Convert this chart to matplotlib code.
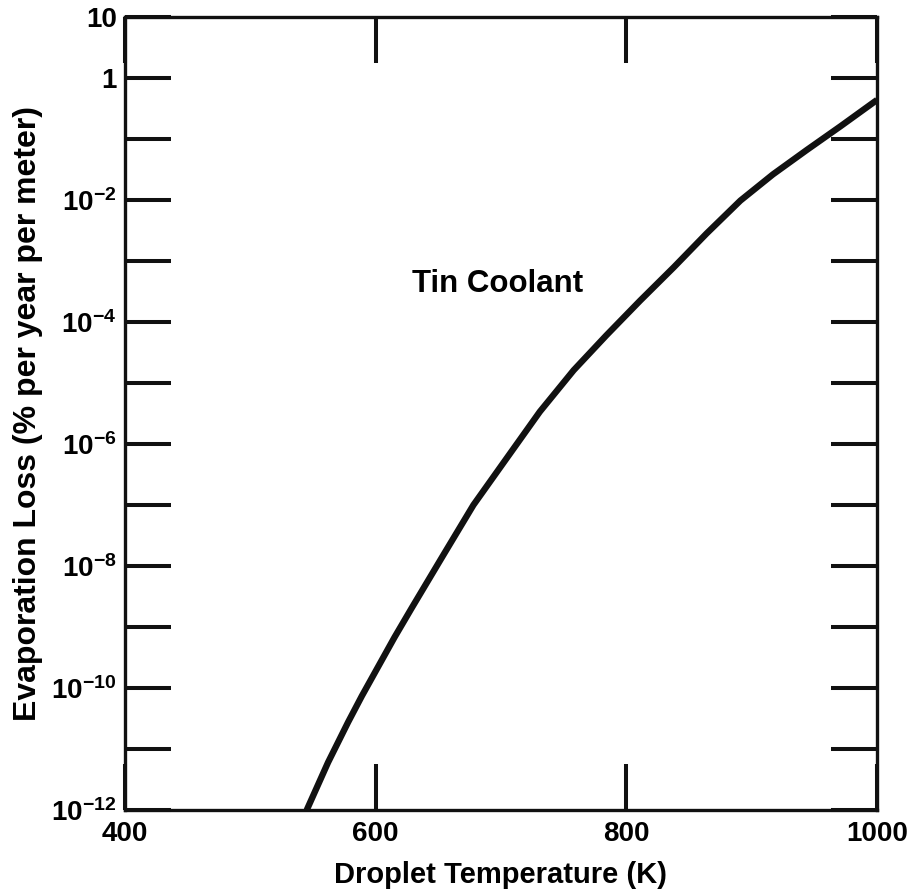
import numpy as np
import matplotlib
matplotlib.use("Agg")
import matplotlib.pyplot as plt
from matplotlib.ticker import FixedLocator, FuncFormatter, NullLocator

plt.rcParams['font.family'] = ['Liberation Sans', 'DejaVu Sans']
plt.rcParams['font.weight'] = 'bold'
plt.rcParams['mathtext.fontset'] = 'custom'
plt.rcParams['mathtext.rm'] = 'Liberation Sans:bold'
plt.rcParams['mathtext.bf'] = 'Liberation Sans:bold'
plt.rcParams['mathtext.default'] = 'bf'

# Tin coolant evaporation loss curve (log10 of % per year per meter)
temperature = [545, 562, 578, 589, 602, 615, 629, 654, 678, 705, 731,
               758, 784, 811, 838, 864, 891, 917, 944, 971, 1000]
log_loss = [-12.0, -11.22, -10.56, -10.13, -9.65, -9.17, -8.68, -7.82,
            -7.00, -6.22, -5.47, -4.79, -4.22, -3.65, -3.10, -2.55, -2.01,
            -1.58, -1.18, -0.79, -0.36]

x_ticks = [400, 600, 800, 1000]
y_exponents = list(range(-12, 2))
label_text = "Tin Coolant"

loss = 10.0 ** np.array(log_loss)

fig = plt.figure(figsize=(9.09, 8.93), dpi=100)
ax = fig.add_axes([0.1375, 0.0929, 0.8273, 0.8881])

ax.plot(temperature, loss, color='#111111', lw=4.6, solid_capstyle='butt',
        solid_joinstyle='round')

ax.set_yscale('log')
ax.set_xlim(400, 1000)
ax.set_ylim(1e-12, 10)

ax.xaxis.set_major_locator(FixedLocator(x_ticks))
ax.xaxis.set_minor_locator(NullLocator())
ax.yaxis.set_major_locator(FixedLocator([10.0 ** e for e in y_exponents]))
ax.yaxis.set_minor_locator(NullLocator())


def y_fmt(v, pos):
    e = int(round(np.log10(v)))
    if e == 1:
        return '10'
    if e == 0:
        return '1'
    if e % 2 == 0:
        return r'$10^{-%d}$' % (-e)
    return ''


ax.yaxis.set_major_formatter(FuncFormatter(y_fmt))
ax.xaxis.set_major_formatter(FuncFormatter(lambda v, p: '%d' % v))

ax.tick_params(axis='both', which='major', direction='in', length=33, width=2.9,
               labelsize=20, pad=8, top=True, right=True, color='#111111')
ax.tick_params(axis='y', pad=6)

for s in ax.spines.values():
    s.set_linewidth(2.4)
    s.set_color('#111111')

ax.text(0.495, 0.663, label_text, transform=ax.transAxes, fontsize=22.5,
        fontweight='bold', ha='center', va='center')

ax.set_xlabel('Droplet Temperature (K)', fontsize=21, fontweight='bold', labelpad=10)
ax.set_ylabel('Evaporation Loss (% per year per meter)', fontsize=23,
              fontweight='bold', labelpad=6)

fig.savefig('out.png', dpi=100)
